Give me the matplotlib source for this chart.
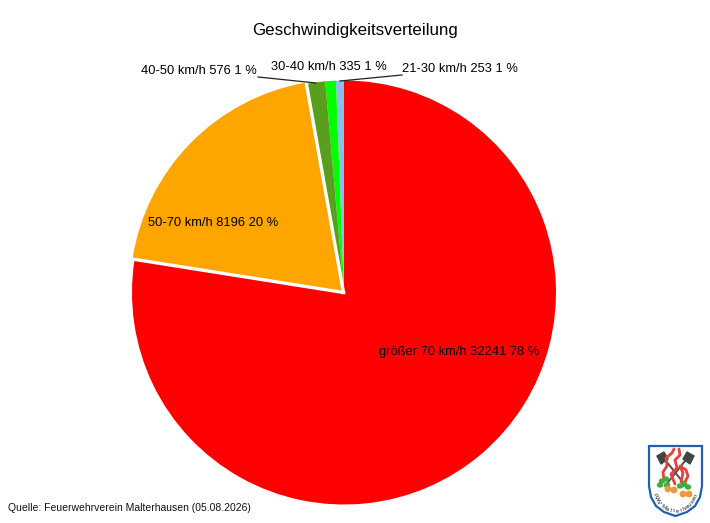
import numpy as np
import matplotlib
matplotlib.use('Agg')
import matplotlib.pyplot as plt
from matplotlib.patches import Polygon, Circle, Ellipse

plt.rcParams['font.family'] = ['Liberation Sans', 'DejaVu Sans']

categories = ['21-30 km/h', '30-40 km/h', '40-50 km/h', '50-70 km/h', 'größer 70 km/h']
counts = [253, 335, 576, 8196, 32241]
percents = [1, 1, 1, 20, 78]
colors = ['#87bfef', '#00ff00', '#5a9e1e', '#ffa500', '#ff0000']
W, H = 710, 523
CX, CY, R = 344, 292.5, 212


def py(y):
    # pixel row of the reference -> axes y
    return H - y


fig = plt.figure(figsize=(W / 100, H / 100), dpi=100, facecolor='white')
ax = fig.add_axes([0, 0, 1, 1])

wedges, _ = ax.pie(counts, colors=colors, startangle=90, counterclock=True,
                   center=(CX, py(CY)), radius=R)
ax.set_xlim(0, W)
ax.set_ylim(0, H)
ax.set_aspect('equal')
ax.axis('off')

# orange slice sits a little out of the pie, with white along its straight sides
wedges[3].set_center((CX - 2, py(CY) + 1))
for theta in (wedges[3].theta1, wedges[3].theta2):
    t = np.deg2rad(theta)
    ax.plot([CX - 0.5, CX - 0.5 + (R + 3) * np.cos(t)], [py(CY), py(CY) + (R + 3) * np.sin(t)],
            color='white', lw=2.4, zorder=3, solid_capstyle='projecting')

labels = [f'{c} {n} {p} %' for c, n, p in zip(categories, counts, percents)]
label_pos = [(402, 68.5), (271, 67.5), (141, 70.5), (148, 222.5), (379, 352)]
for txt, (x, y) in zip(labels, label_pos):
    ax.text(x, py(y), txt, fontsize=9.3, color='black', ha='left', va='center', zorder=5)

# leader lines
ax.plot([258, 316], [py(77), py(83)], color='#222222', lw=0.9, zorder=4)
ax.plot([402, 340], [py(75), py(81)], color='#222222', lw=0.9, zorder=4)

ax.text(355, py(30.5), 'Geschwindigkeitsverteilung', fontsize=12.2, ha='center', va='center')
ax.text(8, py(508), 'Quelle: Feuerwehrverein Malterhausen (05.08.2026)', fontsize=7.5,
        ha='left', va='center', color='#111111')

# logo in the lower right corner
shield = [(649, 446), (702, 446), (702, 486), (700, 497), (695, 506), (687, 512), (675.5, 516),
          (664, 512), (656, 506), (651, 497), (649, 486)]
ax.add_patch(Polygon([(x, py(y)) for x, y in shield], closed=True, facecolor='white',
                     edgecolor='#1f5fb4', lw=1.6, zorder=6))

# crossed axes
ax.plot([662, 686], [py(456), py(486)], color='#555555', lw=1.5, zorder=7)
ax.plot([689, 665], [py(456), py(486)], color='#555555', lw=1.5, zorder=7)
ax.add_patch(Polygon([(x, py(y)) for x, y in [(657, 456), (664, 452), (668, 459), (661, 464)]],
                     color='#444444', zorder=7))
ax.add_patch(Polygon([(x, py(y)) for x, y in [(694, 456), (687, 452), (683, 459), (690, 464)]],
                     color='#444444', zorder=7))

# flames
for xs, ys in [([664, 663, 667, 666, 672, 674], [480, 472, 466, 458, 453, 449]),
               ([675, 671, 677, 675, 680, 679], [484, 474, 468, 460, 455, 449]),
               ([681, 683, 680, 686, 688, 683], [482, 473, 466, 470, 476, 486])]:
    ax.plot(xs, [py(y) for y in ys], color='#e8413a', lw=2.0, zorder=8, solid_capstyle='round')

# leaves and apples
for x, y in [(662, 481), (666, 479), (660, 485), (667, 485), (680, 486), (684, 484), (688, 487)]:
    ax.add_patch(Ellipse((x, py(y)), 5, 4, color='#3fae3a', zorder=8))
for x, y in [(668, 489), (674, 490), (683, 494), (689, 494)]:
    ax.add_patch(Circle((x, py(y)), 2.7, color='#ee9a3c', zorder=8))

# curved logo text along the bottom of the shield
logo_text = 'FWV Malterhausen'
for i, ch in enumerate(logo_text):
    a = -72 + (i + 0.5) / len(logo_text) * 144
    ra = np.deg2rad(a)
    ax.text(675.5 + 22.5 * np.sin(ra), py(486 + 25 * np.cos(ra)), ch, fontsize=4.4, rotation=a,
            ha='center', va='center', zorder=9, color='#222222')

fig.savefig('out.png', dpi=100, facecolor='white')
